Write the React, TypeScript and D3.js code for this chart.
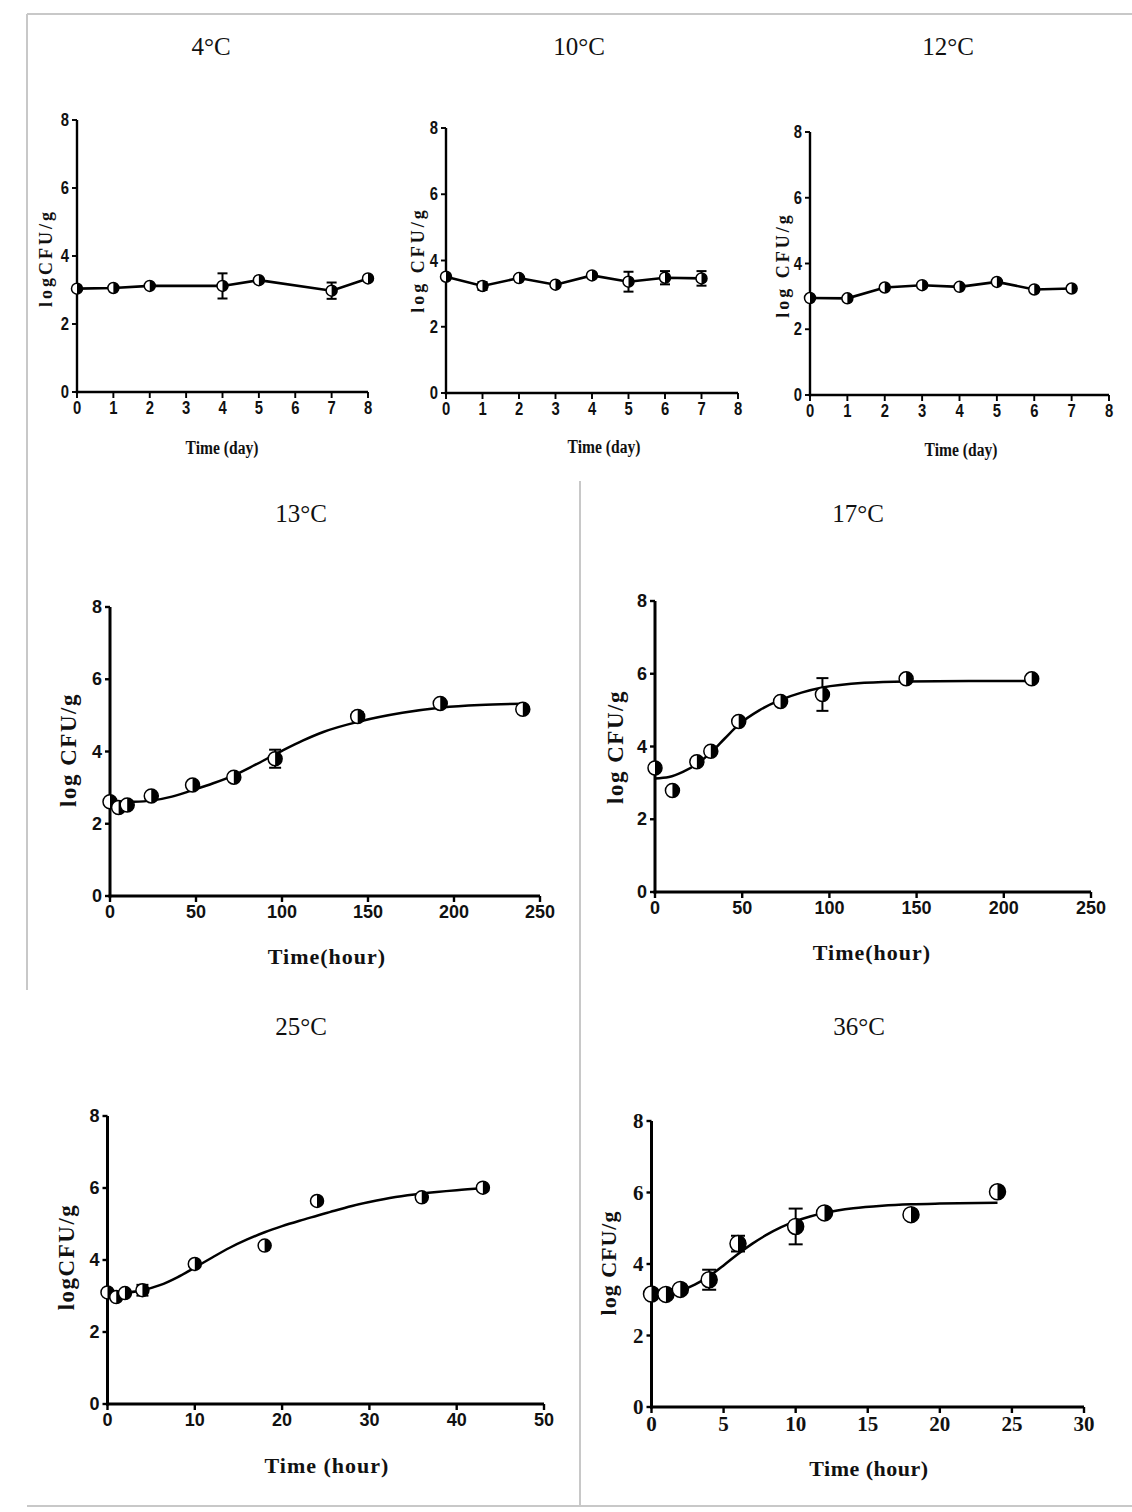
import React from "react";
import * as d3 from "d3";

// ---------- data ----------
const T4_day = [0, 1, 2, 4, 5, 7, 8];
const T4_log = [3.04, 3.06, 3.12, 3.12, 3.29, 2.98, 3.34];
const T4_err = [0.05, 0.05, 0.05, 0.37, 0.06, 0.24, 0.05];

const T10_day = [0, 1, 2, 3, 4, 5, 6, 7];
const T10_log = [3.51, 3.23, 3.47, 3.27, 3.55, 3.36, 3.48, 3.46];
const T10_err = [0.05, 0.12, 0.05, 0.05, 0.05, 0.3, 0.2, 0.22];

const T12_day = [0, 1, 2, 3, 4, 5, 6, 7];
const T12_log = [2.95, 2.94, 3.27, 3.34, 3.29, 3.44, 3.21, 3.24];
const T12_err = [0.04, 0.04, 0.05, 0.05, 0.05, 0.05, 0.05, 0.04];

const T13_hour = [0, 5, 10, 24, 48, 72, 96, 144, 192, 240];
const T13_log = [2.61, 2.45, 2.52, 2.77, 3.07, 3.29, 3.8, 4.97, 5.33, 5.17];
const T13_err = [0, 0, 0, 0.05, 0, 0, 0.25, 0.12, 0, 0];
const C13_t = [0, 10, 24, 36, 48, 60, 72, 84, 100, 112, 124, 145, 170, 193, 215, 240];
const C13_v = [2.58, 2.6, 2.64, 2.75, 2.93, 3.12, 3.34, 3.62, 4.02, 4.3, 4.54, 4.83, 5.07, 5.22, 5.29, 5.32];

const T17_hour = [0, 10, 24, 32, 48, 72, 96, 144, 216];
const T17_log = [3.41, 2.79, 3.58, 3.87, 4.69, 5.24, 5.43, 5.86, 5.86];
const T17_err = [0, 0, 0, 0, 0, 0, 0.45, 0, 0];
const C17_t = [0, 8, 16, 24, 32, 40, 48, 60, 72, 84, 96, 120, 144, 180, 216];
const C17_v = [3.12, 3.16, 3.3, 3.52, 3.83, 4.22, 4.6, 5.0, 5.28, 5.48, 5.62, 5.75, 5.79, 5.8, 5.8];

const T25_hour = [0, 1, 2, 4, 10, 18, 24, 36, 43];
const T25_log = [3.1, 2.97, 3.08, 3.16, 3.89, 4.4, 5.64, 5.74, 6.01];
const T25_err = [0, 0, 0, 0.15, 0, 0, 0, 0, 0];
const C25_t = [0, 2, 4, 6, 8, 10, 12, 14, 16, 18, 20, 22, 24, 26, 28, 30, 33, 36, 40, 43];
const C25_v = [3.1, 3.1, 3.16, 3.3, 3.52, 3.79, 4.07, 4.34, 4.57, 4.77, 4.94, 5.09, 5.23, 5.37, 5.5, 5.61, 5.75, 5.85, 5.94, 5.99];

const T36_hour = [0, 1, 2, 4, 6, 10, 12, 18, 24];
const T36_log = [3.16, 3.15, 3.29, 3.56, 4.57, 5.05, 5.43, 5.38, 6.02];
const T36_err = [0, 0, 0, 0.28, 0.22, 0.5, 0, 0, 0];
const C36_t = [0, 1, 2, 3, 4, 5, 6, 7, 8, 9, 10, 11, 12, 14, 16, 18, 20, 24];
const C36_v = [3.12, 3.15, 3.25, 3.42, 3.66, 3.96, 4.28, 4.57, 4.82, 5.03, 5.2, 5.33, 5.43, 5.56, 5.63, 5.67, 5.69, 5.71];

const Y_TICKS = [0, 2, 4, 6, 8];
const DAY_TICKS = [0, 1, 2, 3, 4, 5, 6, 7, 8];
const HOUR250_TICKS = [0, 50, 100, 150, 200, 250];
const HOUR50_TICKS = [0, 10, 20, 30, 40, 50];
const HOUR30_TICKS = [0, 5, 10, 15, 20, 25, 30];

type Cfg = {
  title: string; titleX: number; titleY: number;
  xL: number; xR: number; yT: number; yB: number; xMax: number; xTicks: number[];
  xs: number[]; ys: number[]; errs: number[];
  cx?: number[]; cy?: number[];
  r: number; axisW: number; lineW: number; cap: number;
  tickFont: string; tickSize: number; tickStretch?: number;
  xTitle: string; xTitleX: number; xTitleY: number; xTitleSize: number; xTitleLS: number; xTitleStretch?: number;
  yTitle: string; yTitleX: number; yTitleY: number; yTitleSize: number; yTitleLS: number;
};

const SERIF = "'Liberation Serif', 'DejaVu Serif', serif";
const SANS = "'Liberation Sans', Arial, sans-serif";

function Panel({ c }: { c: Cfg }) {
  const x = d3.scaleLinear().domain([0, c.xMax]).range([c.xL, c.xR]);
  const y = d3.scaleLinear().domain([0, 8]).range([c.yB, c.yT]);
  const tl = 5;
  let path = "";
  if (c.cx && c.cy) {
    const pts = c.cx.map((t, i) => [t, c.cy![i]] as [number, number]);
    path = d3.line<[number, number]>().x((d) => x(d[0])).y((d) => y(d[1])).curve(d3.curveMonotoneX)(pts) || "";
  } else {
    const pts = c.xs.map((t, i) => [t, c.ys[i]] as [number, number]);
    path = d3.line<[number, number]>().x((d) => x(d[0])).y((d) => y(d[1]))(pts) || "";
  }
  const sx = c.tickStretch ?? 1;
  const xs2 = c.xTitleStretch ?? 1;
  return (
    <g>
      <text x={c.titleX} y={c.titleY} textAnchor="middle" fontFamily={SERIF} fontSize={25} fill="#111">{c.title}</text>
      {/* axes */}
      <line x1={c.xL} x2={c.xL} y1={c.yB + c.axisW / 2} y2={c.yT} stroke="#000" strokeWidth={c.axisW} />
      <line x1={c.xL - c.axisW / 2} x2={c.xR} y1={c.yB} y2={c.yB} stroke="#000" strokeWidth={c.axisW} />
      {Y_TICKS.map((t) => (
        <g key={"y" + t}>
          <line x1={c.xL - tl} x2={c.xL} y1={y(t)} y2={y(t)} stroke="#000" strokeWidth={c.axisW * 0.8} />
          <text transform={`translate(${c.xL - tl - 3},${y(t)}) scale(${sx},1)`} textAnchor="end" dominantBaseline="central"
            fontFamily={c.tickFont} fontWeight="bold" fontSize={c.tickSize} fill="#111">{t}</text>
        </g>
      ))}
      {c.xTicks.map((t) => (
        <g key={"x" + t}>
          <line x1={x(t)} x2={x(t)} y1={c.yB} y2={c.yB + tl + 1} stroke="#000" strokeWidth={c.axisW * 0.8} />
          <text transform={`translate(${x(t)},${c.yB + tl + 4}) scale(${sx},1)`} textAnchor="middle" dominantBaseline="hanging"
            fontFamily={c.tickFont} fontWeight="bold" fontSize={c.tickSize} fill="#111">{t}</text>
        </g>
      ))}
      <text transform={`translate(${c.xTitleX},${c.xTitleY}) scale(${xs2},1)`} textAnchor="middle" dominantBaseline="central" fontFamily={SERIF} fontWeight="bold"
        fontSize={c.xTitleSize} letterSpacing={c.xTitleLS} fill="#111">{c.xTitle}</text>
      <text transform={`translate(${c.yTitleX},${c.yTitleY}) rotate(-90)`} textAnchor="middle" dominantBaseline="central"
        fontFamily={SERIF} fontWeight="bold" fontSize={c.yTitleSize} letterSpacing={c.yTitleLS} fill="#111">{c.yTitle}</text>
      {/* line / curve */}
      <path d={path} fill="none" stroke="#000" strokeWidth={c.lineW} />
      {/* error bars */}
      {c.xs.map((t, i) => c.errs[i] > 0 ? (
        <g key={"e" + i} stroke="#000" strokeWidth={2}>
          <line x1={x(t)} x2={x(t)} y1={y(c.ys[i] - c.errs[i])} y2={y(c.ys[i] + c.errs[i])} />
          <line x1={x(t) - c.cap} x2={x(t) + c.cap} y1={y(c.ys[i] - c.errs[i])} y2={y(c.ys[i] - c.errs[i])} />
          <line x1={x(t) - c.cap} x2={x(t) + c.cap} y1={y(c.ys[i] + c.errs[i])} y2={y(c.ys[i] + c.errs[i])} />
        </g>
      ) : null)}
      {/* markers */}
      {c.xs.map((t, i) => {
        const px = x(t), py = y(c.ys[i]);
        return (
          <g key={"m" + i}>
            <circle cx={px} cy={py} r={c.r} fill="#fff" stroke="#000" strokeWidth={1.5} />
            <path d={`M${px},${py - c.r} A${c.r},${c.r} 0 0 1 ${px},${py + c.r} Z`} fill="#000" />
          </g>
        );
      })}
    </g>
  );
}

const topCommon = {
  r: 5.5, axisW: 2.4, lineW: 2.6, cap: 5, tickFont: SANS, tickSize: 19, tickStretch: 0.78,
  xTitle: "Time (day)", xTitleSize: 19, xTitleLS: 0, xTitleStretch: 0.82, yTitleSize: 18, yTitleLS: 3,
  xMax: 8, xTicks: DAY_TICKS,
};

const panels: Cfg[] = [
  { ...topCommon, title: "4°C", titleX: 211, titleY: 55, xL: 77, xR: 368, yT: 120, yB: 392,
    xs: T4_day, ys: T4_log, errs: T4_err, xTitleX: 222, xTitleY: 448, yTitle: "logCFU/g", yTitleX: 46, yTitleY: 258 },
  { ...topCommon, title: "10°C", titleX: 579, titleY: 55, xL: 446, xR: 738, yT: 128, yB: 393,
    xs: T10_day, ys: T10_log, errs: T10_err, xTitleX: 604, xTitleY: 447, yTitle: "log CFU/g", yTitleX: 418, yTitleY: 260 },
  { ...topCommon, title: "12°C", titleX: 948, titleY: 55, xL: 810, xR: 1109, yT: 132, yB: 395,
    xs: T12_day, ys: T12_log, errs: T12_err, xTitleX: 961, xTitleY: 450, yTitle: "log CFU/g", yTitleX: 783, yTitleY: 265 },
  { title: "13°C", titleX: 301, titleY: 522, xL: 110, xR: 540, yT: 607, yB: 896, xMax: 250, xTicks: HOUR250_TICKS,
    xs: T13_hour, ys: T13_log, errs: T13_err, cx: C13_t, cy: C13_v,
    r: 7, axisW: 3, lineW: 2.5, cap: 6, tickFont: SANS, tickSize: 18,
    xTitle: "Time(hour)", xTitleX: 327, xTitleY: 956, xTitleSize: 22, xTitleLS: 1,
    yTitle: "log CFU/g", yTitleX: 68, yTitleY: 750, yTitleSize: 23, yTitleLS: 1.5 },
  { title: "17°C", titleX: 858, titleY: 522, xL: 655, xR: 1091, yT: 601, yB: 892, xMax: 250, xTicks: HOUR250_TICKS,
    xs: T17_hour, ys: T17_log, errs: T17_err, cx: C17_t, cy: C17_v,
    r: 7, axisW: 3, lineW: 2.5, cap: 6, tickFont: SANS, tickSize: 18,
    xTitle: "Time(hour)", xTitleX: 872, xTitleY: 952, xTitleSize: 22, xTitleLS: 1,
    yTitle: "log CFU/g", yTitleX: 615, yTitleY: 747, yTitleSize: 23, yTitleLS: 1.5 },
  { title: "25°C", titleX: 301, titleY: 1035, xL: 107.5, xR: 544, yT: 1116, yB: 1404, xMax: 50, xTicks: HOUR50_TICKS,
    xs: T25_hour, ys: T25_log, errs: T25_err, cx: C25_t, cy: C25_v,
    r: 6.5, axisW: 3, lineW: 2.5, cap: 6, tickFont: SANS, tickSize: 18,
    xTitle: "Time (hour)", xTitleX: 327, xTitleY: 1465, xTitleSize: 22, xTitleLS: 1,
    yTitle: "logCFU/g", yTitleX: 66, yTitleY: 1257, yTitleSize: 23, yTitleLS: 1.5 },
  { title: "36°C", titleX: 859, titleY: 1035, xL: 651.5, xR: 1084, yT: 1121, yB: 1407, xMax: 30, xTicks: HOUR30_TICKS,
    xs: T36_hour, ys: T36_log, errs: T36_err, cx: C36_t, cy: C36_v,
    r: 8, axisW: 3, lineW: 2.5, cap: 7, tickFont: SERIF, tickSize: 21,
    xTitle: "Time (hour)", xTitleX: 869, xTitleY: 1468, xTitleSize: 22, xTitleLS: 0.5,
    yTitle: "log CFU/g", yTitleX: 608, yTitleY: 1263, yTitleSize: 22, yTitleLS: 1 },
];

export default function App() {
  return (
    <svg width={1132} height={1512} style={{ position: "absolute", left: 0, top: 0, background: "#fff" }}>
      <rect x={0} y={0} width={1132} height={1512} fill="#fff" />
      {/* frame lines */}
      <g stroke="#c8c8c8" strokeWidth={2}>
        <line x1={27} x2={1132} y1={14} y2={14} />
        <line x1={27} x2={27} y1={14} y2={990} />
        <line x1={580} x2={580} y1={481} y2={1506} />
        <line x1={27} x2={1132} y1={1506} y2={1506} />
      </g>
      {panels.map((p, i) => <Panel key={i} c={p} />)}
    </svg>
  );
}
